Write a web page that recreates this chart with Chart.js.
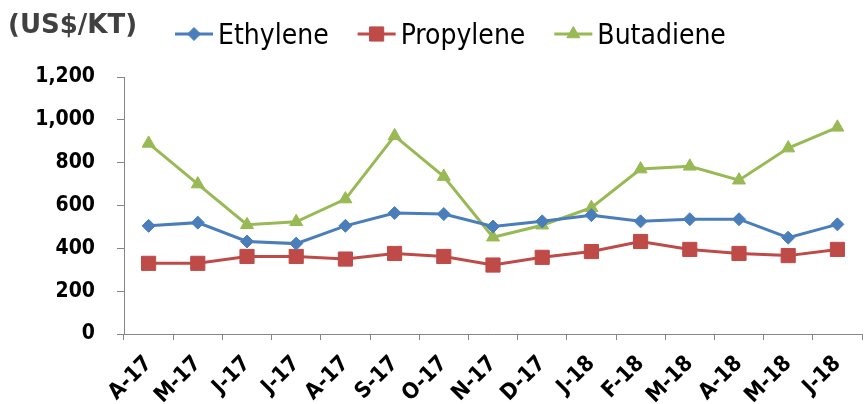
<!DOCTYPE html>
<html>
<head>
<meta charset="utf-8">
<script src="https://cdn.jsdelivr.net/npm/chart.js@4.4.1/dist/chart.umd.min.js"></script>
<style>
  html, body { margin: 0; padding: 0; background: #fff; }
  #wrap { width: 864px; height: 404px; position: relative; }
</style>
</head>
<body>
<div id="wrap"><canvas id="c" width="864" height="404"></canvas></div>
<script>
const categories = ['A-17','M-17','J-17','J-17','A-17','S-17','O-17','N-17','D-17','J-18','F-18','M-18','A-18','M-18','J-18'];
const ethylene  = [505, 520, 432, 422, 505, 565, 560, 502, 526, 555, 526, 536, 536, 450, 512];
const propylene = [330, 330, 362, 362, 350, 376, 362, 322, 358, 385, 432, 395, 376, 366, 395];
const butadiene = [890, 700, 510, 524, 630, 925, 735, 452, 508, 590, 770, 783, 718, 868, 965];
const seriesNames = ['Ethylene', 'Propylene', 'Butadiene'];
const unitLabel = '(US$/KT)';
const yTicks = [0, 200, 400, 600, 800, 1000, 1200];

const COND = '"DejaVu Sans Condensed", "DejaVu Sans", sans-serif';

function drawMarker(ctx, style, r, x, y) {
  if (style === 'rectRot') {
    ctx.moveTo(x, y - r); ctx.lineTo(x + r, y); ctx.lineTo(x, y + r); ctx.lineTo(x - r, y); ctx.closePath();
  } else if (style === 'rect') {
    const s = Math.SQRT1_2 * r;
    ctx.rect(x - s, y - s, 2 * s, 2 * s);
  } else if (style === 'triangle') {
    ctx.moveTo(x, y - r);
    ctx.lineTo(x + r * Math.sin(2 * Math.PI / 3), y - r * Math.cos(2 * Math.PI / 3));
    ctx.lineTo(x + r * Math.sin(4 * Math.PI / 3), y - r * Math.cos(4 * Math.PI / 3));
    ctx.closePath();
  }
}

const customLegend = {
  id: 'customLegend',
  afterDraw(chart) {
    const ctx = chart.ctx;
    ctx.save();
    ctx.font = 'bold 26px "DejaVu Sans", sans-serif';
    ctx.fillStyle = '#404040';
    ctx.textAlign = 'left';
    ctx.textBaseline = 'alphabetic';
    ctx.fillText(unitLabel, 8, 33);
    ctx.font = '28px ' + COND;
    let x = 175;
    const yLine = 34;
    chart.data.datasets.forEach((d) => {
      ctx.strokeStyle = d.borderColor;
      ctx.lineWidth = 3;
      ctx.beginPath();
      ctx.moveTo(x, yLine);
      ctx.lineTo(x + 38, yLine);
      ctx.stroke();
      ctx.fillStyle = d.pointBackgroundColor;
      ctx.strokeStyle = d.pointBorderColor;
      ctx.lineWidth = 1;
      ctx.beginPath();
      drawMarker(ctx, d.pointStyle, d.pointRadius, x + 19, yLine);
      ctx.fill();
      ctx.stroke();
      ctx.fillStyle = '#000';
      ctx.fillText(d.label, x + 43, 44);
      x += 43 + ctx.measureText(d.label).width + 29;
    });
    ctx.restore();
  }
};

function ds(label, data, color, style, radius) {
  return {
    label, data,
    borderColor: color,
    backgroundColor: color,
    pointBackgroundColor: color,
    pointBorderColor: color,
    pointStyle: style,
    pointRadius: radius,
    pointHoverRadius: radius,
    pointBorderWidth: 1,
    borderWidth: 3,
    tension: 0,
    fill: false,
    clip: false
  };
}

new Chart(document.getElementById('c'), {
  type: 'line',
  data: {
    labels: categories,
    datasets: [
      ds(seriesNames[0], ethylene,  '#4A7EBB', 'rectRot', 6.5),
      ds(seriesNames[1], propylene, '#BE4B48', 'rect', 10),
      ds(seriesNames[2], butadiene, '#98B954', 'triangle', 7.5)
    ]
  },
  options: {
    responsive: false,
    animation: false,
    devicePixelRatio: 1,
    layout: { autoPadding: false, padding: { top: 77, right: 2, left: 0, bottom: 0 } },
    plugins: {
      legend: { display: false },
      title: { display: false },
      tooltip: { enabled: false }
    },
    scales: {
      x: {
        offset: true,
        grid: { display: true, drawOnChartArea: false, drawTicks: true, tickLength: 6, color: '#868686', offset: true },
        border: { display: true, color: '#868686', width: 1 },
        ticks: {
          autoSkip: false, maxRotation: 45, minRotation: 45,
          color: '#000', padding: 11,
          font: { family: COND, size: 22, weight: 'bold' }
        },
        afterFit(scale) { scale.height = 70; scale.paddingLeft = 0; scale.paddingRight = 0; }
      },
      y: {
        min: 0, max: 1200,
        afterBuildTicks(scale) { scale.ticks = yTicks.map(v => ({ value: v })); },
        grid: { display: true, drawOnChartArea: false, drawTicks: true, tickLength: 7, color: '#868686' },
        border: { display: true, color: '#868686', width: 1 },
        ticks: {
          color: '#000', padding: 22,
          font: { family: COND, size: 21, weight: 'bold' },
          callback: (v) => Number(v).toLocaleString('en-US')
        },
        afterFit(scale) { scale.width = 124; }
      }
    }
  },
  plugins: [customLegend]
});
</script>
</body>
</html>
